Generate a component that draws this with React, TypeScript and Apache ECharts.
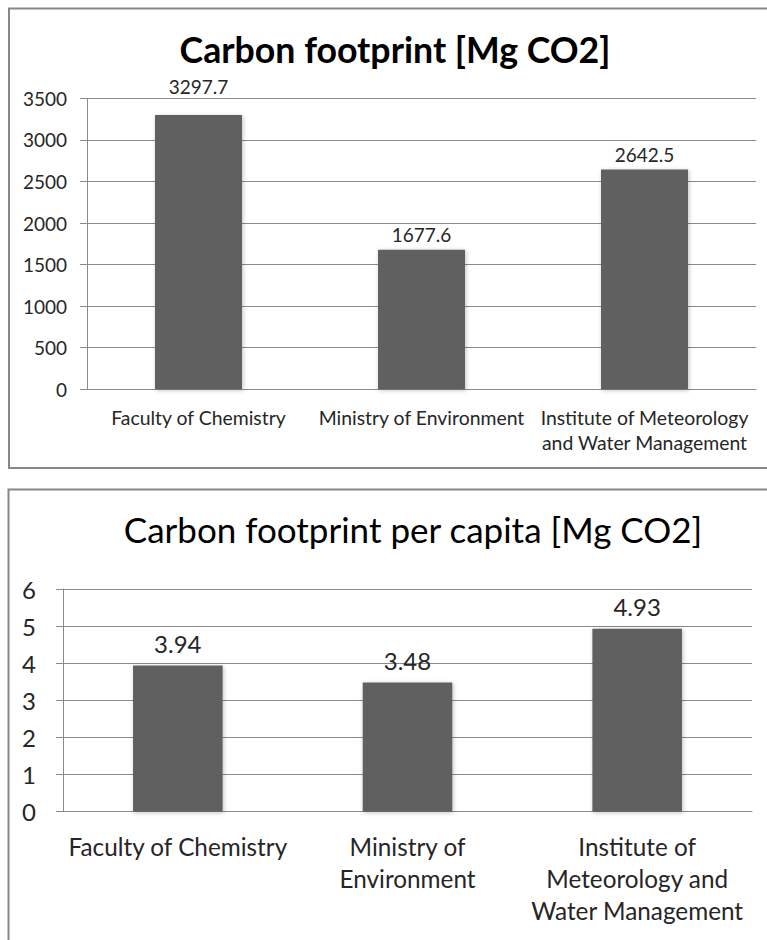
import React, { useEffect, useRef } from "react";
import * as echarts from "echarts";

// ---- data ----
const categoriesTotal = [
  "Faculty of Chemistry",
  "Ministry of Environment",
  "Institute of Meteorology\nand Water Management",
];
const categoriesPerCapita = [
  "Faculty of Chemistry",
  "Ministry of\nEnvironment",
  "Institute of\nMeteorology and\nWater Management",
];
const footprintTotal = [3297.7, 1677.6, 2642.5];
const footprintPerCapita = [3.94, 3.48, 4.93];
const totalAxisMax = 3500;
const totalAxisStep = 500;
const perCapitaAxisMax = 6;
const perCapitaAxisStep = 1;
const titleTotal = "Carbon footprint [Mg CO2]";
const titlePerCapita = "Carbon footprint per capita [Mg CO2]";

// ---- styles ----
const FONT = "Lato, 'Open Sans', 'Noto Sans', sans-serif";
const TXT = "#262626";
const AX = "#8a8a8a";
const BAR = "#606060";
const totalLabelGap = [19, 6, 6];

export default function App() {
  const ref = useRef<HTMLDivElement>(null);
  useEffect(() => {
    const chart = echarts.init(ref.current!, null, { renderer: "svg" });
    const barStyle = {
      color: BAR,
      shadowBlur: 4,
      shadowColor: "rgba(0,0,0,0.25)",
      shadowOffsetX: 1,
      shadowOffsetY: 1,
    };
    const plain = (v: number) => String(v);
    chart.setOption({
      animation: false,
      backgroundColor: "#fff",
      textStyle: { fontFamily: FONT },
      graphic: [
        {
          type: "rect",
          shape: { x: 9, y: 8.5, width: 800, height: 459.5 },
          style: { fill: "none", stroke: "#878787", lineWidth: 2 },
          silent: true,
        },
        {
          type: "rect",
          shape: { x: 8.5, y: 489.5, width: 800, height: 500 },
          style: { fill: "none", stroke: "#878787", lineWidth: 2 },
          silent: true,
        },
      ],
      title: [
        {
          text: titleTotal,
          left: 390,
          top: 26,
          textAlign: "center",
          textStyle: { fontFamily: FONT, fontSize: 35.7, fontWeight: "bold", color: "#000" },
        },
        {
          text: titlePerCapita,
          left: 408,
          top: 506,
          textAlign: "center",
          textStyle: { fontFamily: FONT, fontSize: 35, fontWeight: "normal", color: "#000" },
        },
      ],
      grid: [
        { left: 87, right: 11, top: 98.3, bottom: 550.7 },
        { left: 63, right: 15, top: 589, bottom: 128.3 },
      ],
      xAxis: [
        {
          gridIndex: 0,
          type: "category",
          data: categoriesTotal,
          axisLine: { lineStyle: { color: AX, width: 1 } },
          axisTick: { length: 7, lineStyle: { color: AX } },
          axisLabel: { interval: 0, margin: 16, fontSize: 19.4, lineHeight: 25, color: TXT, fontFamily: FONT },
        },
        {
          gridIndex: 1,
          type: "category",
          data: categoriesPerCapita,
          axisLine: { lineStyle: { color: AX, width: 1 } },
          axisTick: { length: 7, lineStyle: { color: AX } },
          axisLabel: { interval: 0, margin: 19, fontSize: 24.3, lineHeight: 32, color: TXT, fontFamily: FONT },
        },
      ],
      yAxis: [
        {
          gridIndex: 0,
          type: "value",
          min: 0,
          max: totalAxisMax,
          interval: totalAxisStep,
          axisLine: { show: true, lineStyle: { color: AX } },
          axisTick: { show: true, length: 7, lineStyle: { color: AX } },
          splitLine: { lineStyle: { color: AX } },
          axisLabel: { margin: 20, fontSize: 19, color: TXT, fontFamily: FONT, formatter: plain },
        },
        {
          gridIndex: 1,
          type: "value",
          min: 0,
          max: perCapitaAxisMax,
          interval: perCapitaAxisStep,
          axisLine: { show: true, lineStyle: { color: AX } },
          axisTick: { show: true, length: 7, lineStyle: { color: AX } },
          splitLine: { lineStyle: { color: AX } },
          axisLabel: { margin: 27, fontSize: 24, color: TXT, fontFamily: FONT, formatter: plain },
        },
      ],
      series: [
        {
          type: "bar",
          xAxisIndex: 0,
          yAxisIndex: 0,
          barWidth: "39%",
          data: footprintTotal.map((v, i) => ({ value: v, label: { distance: totalLabelGap[i] } })),
          itemStyle: barStyle,
          label: { show: true, position: "top", fontSize: 19, color: TXT, fontFamily: FONT },
        },
        {
          type: "bar",
          xAxisIndex: 1,
          yAxisIndex: 1,
          barWidth: "39%",
          data: footprintPerCapita,
          itemStyle: barStyle,
          label: { show: true, position: "top", distance: 10, fontSize: 24, color: TXT, fontFamily: FONT },
        },
      ],
    });
    return () => chart.dispose();
  }, []);
  return (
    <div
      ref={ref}
      style={{ position: "absolute", left: 0, top: 0, width: 767, height: 940, background: "#fff" }}
    />
  );
}
